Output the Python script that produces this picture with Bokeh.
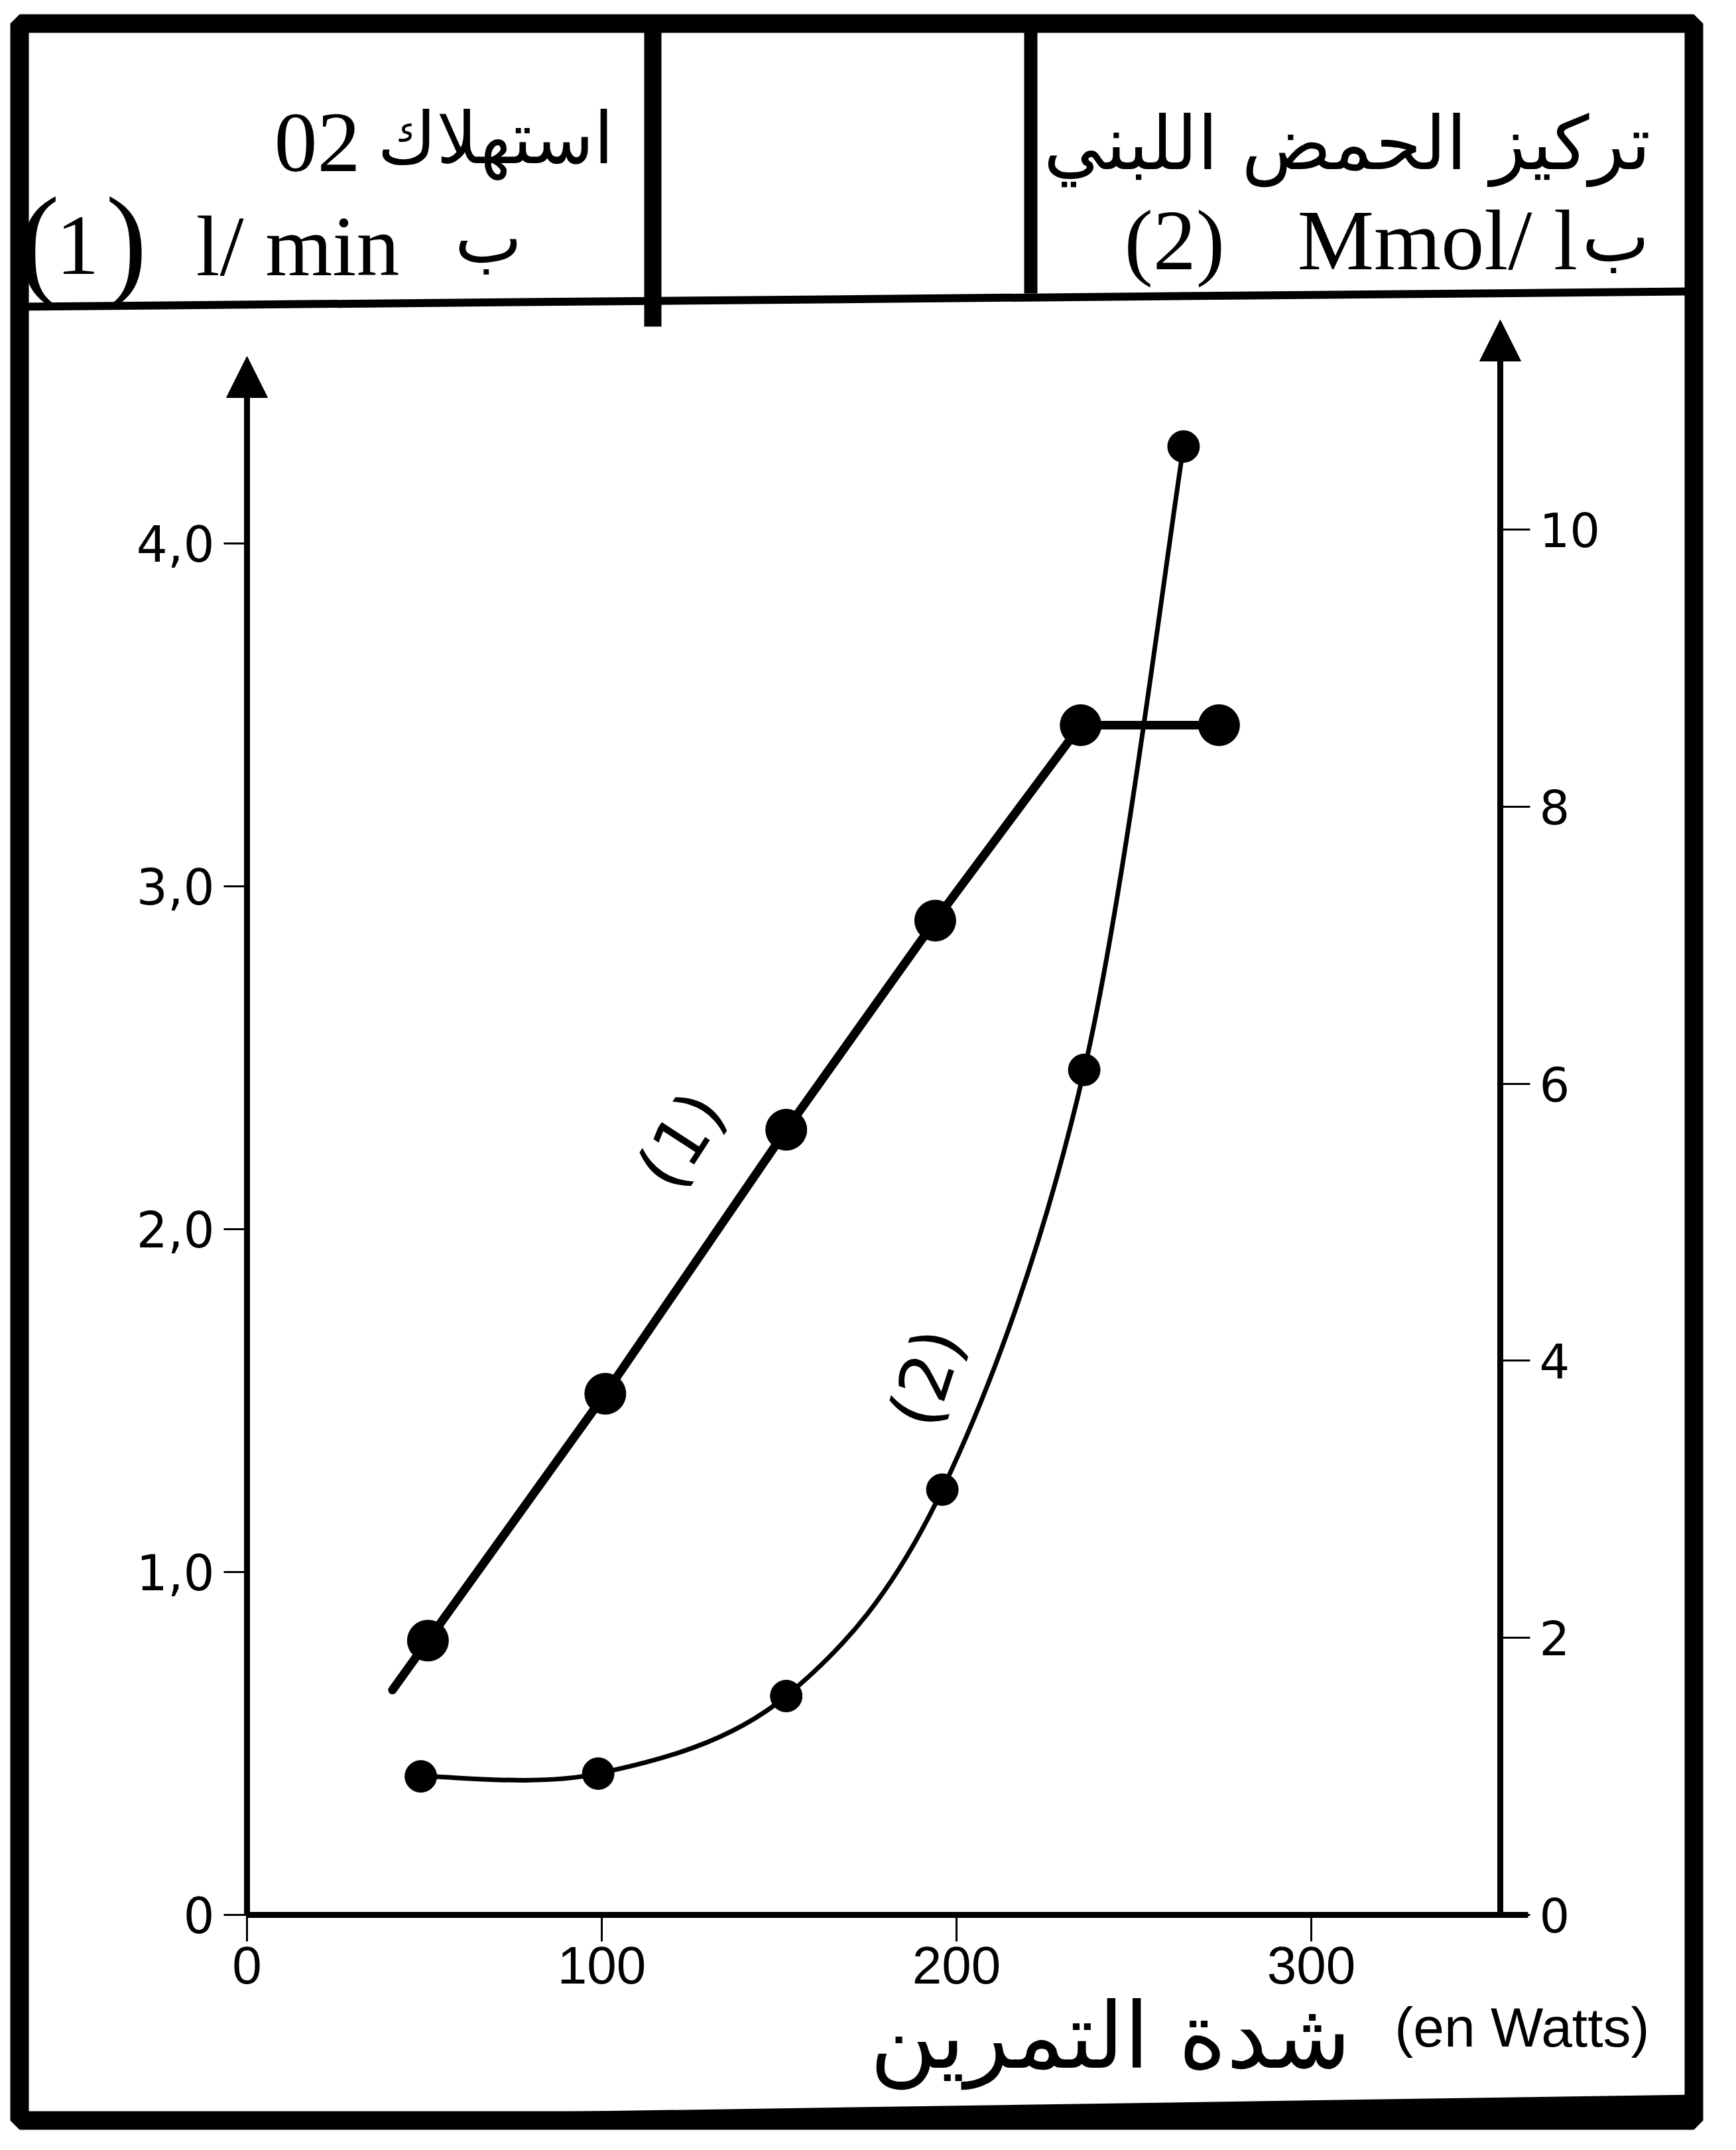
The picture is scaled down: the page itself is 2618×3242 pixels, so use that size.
import numpy as np
from bokeh.plotting import figure
from bokeh.models import Range1d, LinearAxis, FixedTicker, Arrow, NormalHead, Label
from bokeh.embed import file_html
from bokeh.resources import INLINE

# ---------------- data ----------------
power_o2 = [51, 101, 152, 194, 235, 274]          # exercise intensity (W)
o2_uptake = [0.80, 1.52, 2.29, 2.90, 3.47, 3.47]  # O2 consumption (l/min)  - curve (1)
power_lac = [49, 99, 152, 196, 236, 264]          # exercise intensity (W)
lactate = [1.0, 1.02, 1.58, 3.07, 6.1, 10.6]      # lactic acid (mmol/l)    - curve (2)

left_ticks = [0, 1, 2, 3, 4]
left_tick_labels = ["0", "1,0", "2,0", "3,0", "4,0"]
right_ticks = [0, 2, 4, 6, 8, 10]
right_tick_labels = ["0", "2", "4", "6", "8", "10"]
x_ticks = [0, 100, 200, 300]
x_tick_labels = ["0", "100", "200", "300"]

hdr_left_ar = "استهلاك"
hdr_left_o2 = "02"
hdr_left_unit = "l/ min"
hdr_left_num = "1"
hdr_by = "ب"
hdr_right_ar = "تركيز الحمض اللبني"
hdr_right_num = "(2)"
hdr_right_unit = "Mmol/ l"
x_title_ar = "شدة التمرين"
x_title_fr = "(en Watts)"

# ---------------- layout (page pixels) ----------------
W_FIG, H_FIG, PAGE = 2602, 3226, 8
FRAME_L, FRAME_R, FRAME_T, FRAME_B = 37, 2562, 43, 3205
X0_PX, PX_PER_W = 380, 5.35
Y0_PX, PX_PER_L = 2895, 517
R_FACTOR = 2.475   # right-axis units per left-axis unit
BL = 0.22          # baseline correction (fraction of font size)


def dx(px):
    return (px - X0_PX) / PX_PER_W


def dy(py):
    return (Y0_PX - py) / PX_PER_L


x_range = Range1d(dx(FRAME_L), dx(FRAME_R))
y_range = Range1d(dy(FRAME_B), dy(FRAME_T))

p = figure(width=W_FIG, height=H_FIG, x_range=x_range, y_range=y_range,
           output_backend="svg", toolbar_location=None,
           x_axis_location=None, y_axis_location=None,
           min_border_left=FRAME_L - PAGE, min_border_right=W_FIG + PAGE - FRAME_R,
           min_border_top=FRAME_T - PAGE, min_border_bottom=H_FIG + PAGE - FRAME_B)
p.extra_y_ranges = {"lac": Range1d(dy(FRAME_B) * R_FACTOR, dy(FRAME_T) * R_FACTOR)}
p.grid.visible = False
p.background_fill_color = "white"
p.border_fill_color = "white"
p.outline_line_color = "black"
p.outline_line_width = 28

AX_W = 9
LEFT_TOP = dy(565)
RIGHT_TOP = dy(510) * R_FACTOR
RIGHT_X = dx(2270)
X_END = dx(2312)

common = dict(axis_line_width=AX_W, axis_line_color="black",
              major_tick_line_width=3, major_tick_in=0, minor_tick_in=0, minor_tick_out=0,
              major_label_text_color="black")

yl = LinearAxis(fixed_location=0, bounds=(0, LEFT_TOP),
                ticker=FixedTicker(ticks=left_ticks),
                major_label_overrides=dict(zip(left_ticks, left_tick_labels)),
                major_tick_out=35, major_label_standoff=14,
                major_label_text_font="DejaVu Sans", major_label_text_font_size="74px",
                **common)
p.add_layout(yl, "left")

yr = LinearAxis(y_range_name="lac", fixed_location=RIGHT_X, bounds=(0, RIGHT_TOP),
                ticker=FixedTicker(ticks=right_ticks),
                major_label_overrides=dict(zip(right_ticks, right_tick_labels)),
                major_tick_out=45, major_label_standoff=14,
                major_label_text_font="DejaVu Sans", major_label_text_font_size="72px",
                **common)
p.add_layout(yr, "right")

xb = LinearAxis(fixed_location=0, bounds=(0, X_END),
                ticker=FixedTicker(ticks=x_ticks),
                major_label_overrides=dict(zip(x_ticks, x_tick_labels)),
                major_tick_out=40, major_label_standoff=8,
                major_label_text_font="Liberation Sans", major_label_text_font_size="80px",
                **common)
p.add_layout(xb, "below")

# axis arrows
p.add_layout(Arrow(end=NormalHead(size=62, fill_color="black", line_color="black"),
                   x_start=0, y_start=LEFT_TOP - 0.2, x_end=0, y_end=dy(545),
                   line_width=AX_W, line_color="black"))
p.add_layout(Arrow(end=NormalHead(size=62, fill_color="black", line_color="black"),
                   x_start=RIGHT_X, y_start=RIGHT_TOP - 0.5, x_end=RIGHT_X,
                   y_end=dy(490) * R_FACTOR, y_range_name="lac",
                   line_width=AX_W, line_color="black"))

# ---------------- curve (1): O2 consumption ----------------
slope = (o2_uptake[1] - o2_uptake[0]) / (power_o2[1] - power_o2[0])
ext_x = power_o2[0] - 0.2 * (power_o2[1] - power_o2[0])
ext_y = o2_uptake[0] + slope * (ext_x - power_o2[0])
p.line([ext_x] + power_o2, [ext_y] + o2_uptake, line_width=13, line_color="black",
       line_join="round", line_cap="round")
p.scatter(power_o2, o2_uptake, size=62, marker="circle", fill_color="black", line_color="black")

# ---------------- curve (2): lactic acid (smooth curve through the points) ----------------
sx, sy = PX_PER_W, PX_PER_L / R_FACTOR
P = np.column_stack([np.array(power_lac) * sx, np.array(lactate) * sy])
Pe = np.vstack([P[0], P, P[-1]])
x0s, y0s, x1s, y1s, cx0, cy0, cx1, cy1 = [], [], [], [], [], [], [], []
for i in range(len(P) - 1):
    a, b, c, d = Pe[i], Pe[i + 1], Pe[i + 2], Pe[i + 3]
    c0 = b + (c - a) / 6.0
    c1 = c - (d - b) / 6.0
    x0s.append(b[0] / sx); y0s.append(b[1] / sy)
    x1s.append(c[0] / sx); y1s.append(c[1] / sy)
    cx0.append(c0[0] / sx); cy0.append(c0[1] / sy)
    cx1.append(c1[0] / sx); cy1.append(c1[1] / sy)
p.bezier(x0=x0s, y0=y0s, x1=x1s, y1=y1s, cx0=cx0, cy0=cy0, cx1=cx1, cy1=cy1,
         y_range_name="lac", line_width=7, line_color="black")
p.scatter(power_lac, lactate, size=48, marker="circle", fill_color="black",
          line_color="black", y_range_name="lac")

# curve labels
p.add_layout(Label(x=dx(1035), y=dy(1727), text="(1)", angle=np.radians(57),
                   text_align="center", text_baseline="middle",
                   text_font="DejaVu Sans", text_font_size="104px", text_color="black"))
p.add_layout(Label(x=dx(1405), y=dy(2085), text="(2)", angle=np.radians(72),
                   text_align="center", text_baseline="middle",
                   text_font="DejaVu Sans", text_font_size="104px", text_color="black"))

# ---------------- header boxes ----------------
p.segment(x0=[dx(FRAME_L)], y0=[dy(470)], x1=[dx(FRAME_R)], y1=[dy(447)],
          line_width=12, line_color="black")
p.segment(x0=[dx(992), dx(1562)], y0=[dy(FRAME_T), dy(FRAME_T)],
          x1=[dx(992), dx(1562)], y1=[dy(500), dy(450)],
          line_width=[26, 20], line_color="black")
p.segment(x0=[dx(FRAME_L)], y0=[dy(3224)], x1=[dx(FRAME_R)], y1=[dy(3186)],
          line_width=40, line_color="black")


def txt(px, py, text, size, font="Liberation Serif", align="left"):
    p.add_layout(Label(x=dx(px), y=dy(py - BL * size), text=text,
                       text_align=align, text_baseline="alphabetic",
                       text_font=font, text_font_size=f"{size}px", text_color="black"))


SER, AR = 130, 108
# left box
txt(551, 252, hdr_left_o2, SER, align="right")
txt(933, 240, hdr_left_ar, AR, font="DejaVu Sans", align="right")
txt(66, 412, "(", 188, align="center")
txt(92, 407, hdr_left_num, SER)
txt(198, 412, ")", 188, align="center")
txt(303, 407, hdr_left_unit, SER)
txt(795, 390, hdr_by, AR, font="DejaVu Sans", align="right")
# right box
txt(2497, 248, hdr_right_ar, AR + 4, font="DejaVu Sans", align="right")
txt(1703, 398, hdr_right_num, SER)
txt(1964, 398, hdr_right_unit, SER)
txt(2495, 388, hdr_by, AR, font="DejaVu Sans", align="right")

# x-axis title
txt(2495, 3083, x_title_fr, 84, font="Liberation Sans", align="right")
txt(2045, 3108, x_title_ar, 138, font="DejaVu Sans", align="right")

open("out.html", "w").write(file_html(p, INLINE))
